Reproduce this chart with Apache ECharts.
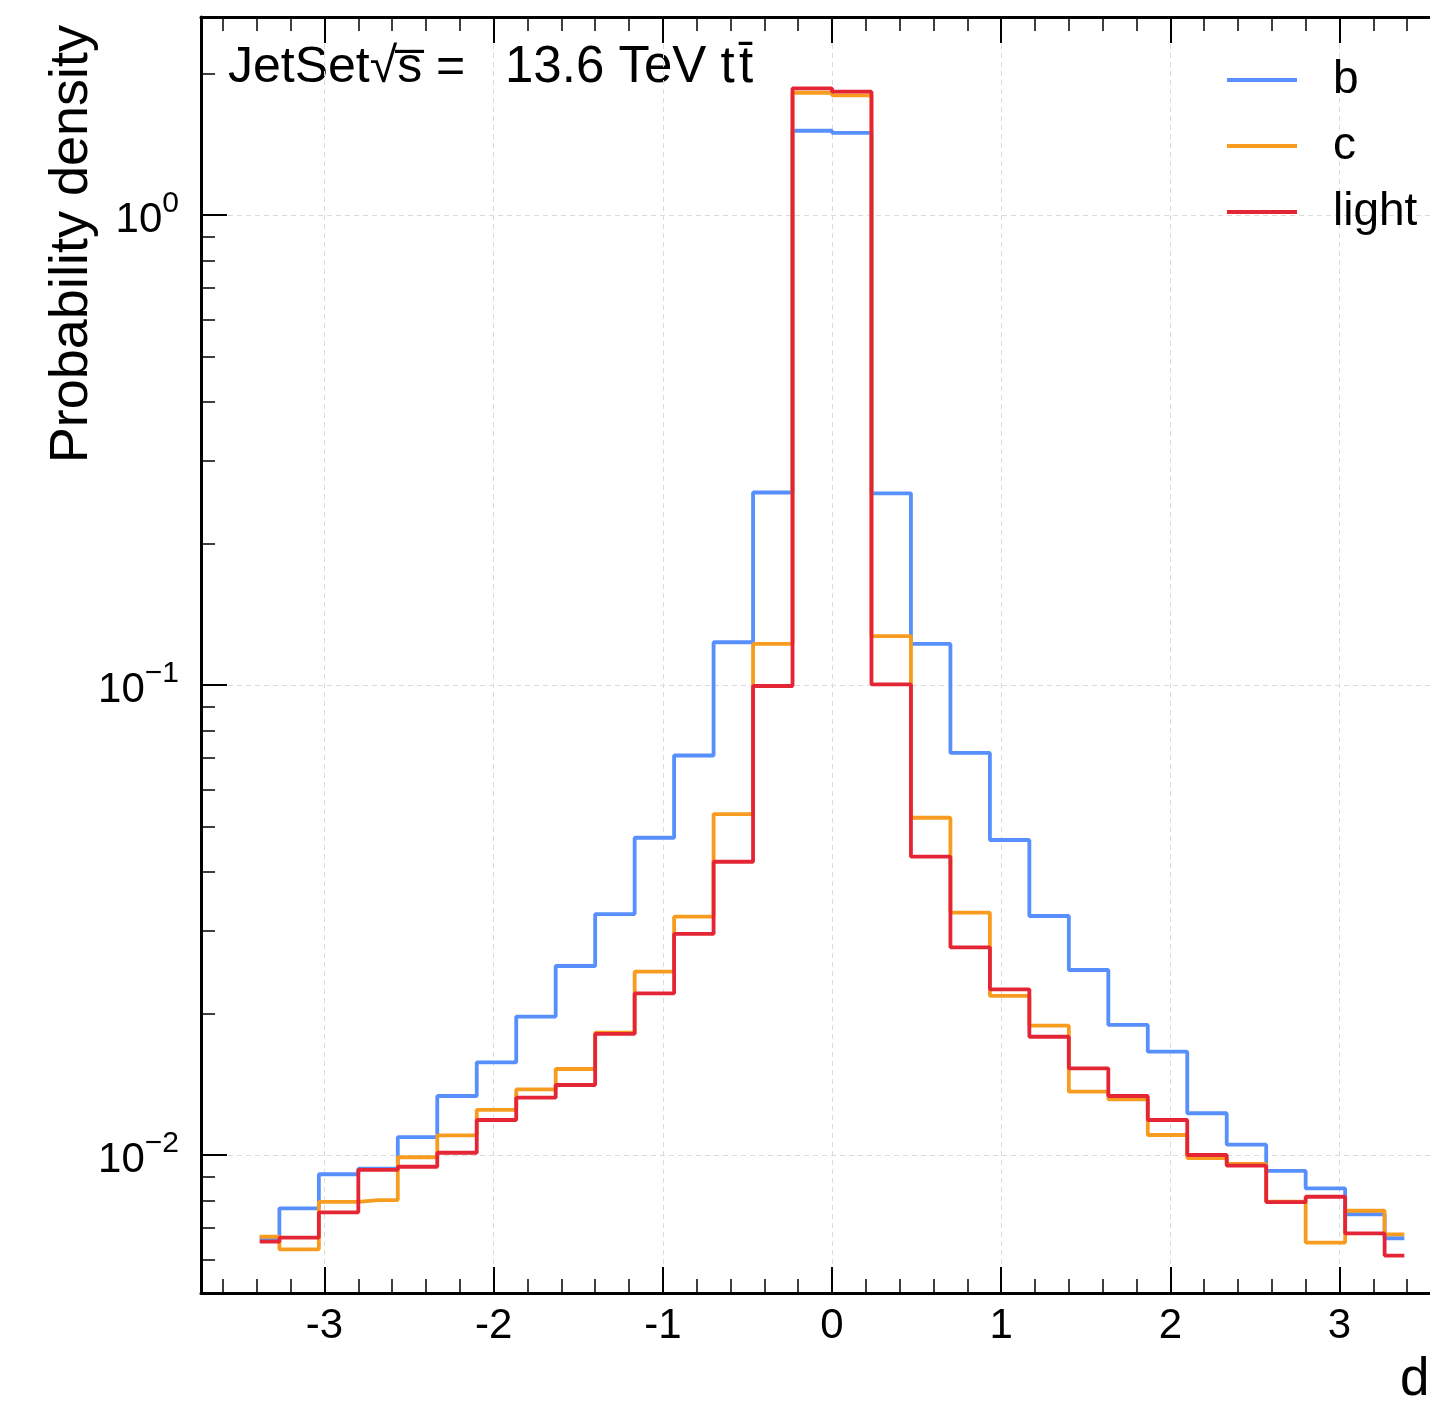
<!DOCTYPE html>
<html><head><meta charset="utf-8">
<script src="https://cdn.jsdelivr.net/npm/echarts@6/dist/echarts.min.js"></script>
<style>html,body{margin:0;padding:0;background:#fff}#c{width:1430px;height:1401px}</style>
</head><body><div id="c"></div>
<script>
// bin centres (30 bins of width 7/30 from -3.5 to 3.5)
const binCenters = [-3.3833,-3.15,-2.9167,-2.6833,-2.45,-2.2167,-1.9833,-1.75,-1.5167,-1.2833,-1.05,-0.8167,-0.5833,-0.35,-0.1167,0.1167,0.35,0.5833,0.8167,1.05,1.2833,1.5167,1.75,1.9833,2.2167,2.45,2.6833,2.9167,3.15,3.3833];
const bValues = [0.00665,0.00770,0.00910,0.00935,0.01092,0.01335,0.01575,0.01970,0.02524,0.03256,0.04732,0.0708,0.1233,0.2568,1.511,1.496,0.2558,0.1223,0.0717,0.0468,0.03225,0.02475,0.01891,0.01659,0.01227,0.01052,0.00925,0.00849,0.00748,0.00665];
const cValues = [0.00670,0.00630,0.00795,0.00802,0.00989,0.01101,0.01247,0.01379,0.01524,0.01820,0.02455,0.03214,0.05314,0.1223,1.820,1.797,0.1271,0.05219,0.03277,0.02180,0.01884,0.01364,0.01314,0.01103,0.00985,0.00957,0.00796,0.00651,0.00761,0.00678];
const lightValues = [0.00654,0.00667,0.00755,0.00930,0.00944,0.01011,0.01187,0.01324,0.01409,0.01810,0.02208,0.02953,0.04207,0.0995,1.860,1.830,0.1003,0.04312,0.02766,0.02252,0.01785,0.01529,0.01335,0.01187,0.01000,0.00949,0.00794,0.00815,0.00681,0.00611];
const seriesNames = ['b','c','light'];
const seriesColors = ['#5790fc','#f89c20','#e42536'];
const xMajorTicks = [-3,-2,-1,0,1,2,3];
const xMinorTicks = [-3.6,-3.4,-3.2,-2.8,-2.6,-2.4,-2.2,-1.8,-1.6,-1.4,-1.2,-0.8,-0.6,-0.4,-0.2,0.2,0.4,0.6,0.8,1.2,1.4,1.6,1.8,2.2,2.4,2.6,2.8,3.2,3.4,3.6];
const yMajorTicks = [0.01,0.1,1];
const yMinorTicks = [0.006,0.007,0.008,0.009,0.02,0.03,0.04,0.05,0.06,0.07,0.08,0.09,0.2,0.3,0.4,0.5,0.6,0.7,0.8,0.9,2];
const xRange = [-3.73, 3.73];
const yRange = [0.005086, 2.638];
const FONT = 'Liberation Sans';

const chart = echarts.init(document.getElementById('c'), null, {renderer:'canvas'});
const allValues = [bValues, cValues, lightValues];
const sup = {'-':'\u2212'};
function logLabel(v){
  const e = Math.round(Math.log10(v));
  const es = String(e).split('').map(ch => sup[ch] || ch).join('');
  return '{b|10}{s|' + es + '}';
}
const axisBlack = {color:'#000', width:3};
function xAx(pos, major){
  return {
    type:'value', min:xRange[0], max:xRange[1], position:pos, gridIndex:0,
    axisLine:{show: major, onZero:false, lineStyle:axisBlack},
    axisTick:{show:true, inside:true, length: major?26:14, customValues: major?xMajorTicks:xMinorTicks, lineStyle:{color:'#000', width: major?2:1.5}},
    axisLabel:{show: major && pos==='bottom', customValues:xMajorTicks, fontSize:42, fontFamily:FONT, color:'#000', margin:12, formatter: v => String(v)},
    splitLine:{show: major && pos==='bottom', lineStyle:{type:[5,4], color:'#dadada', width:1}}
  };
}
function yAx(major){
  return {
    type:'log', logBase:10, min:yRange[0], max:yRange[1], position:'left',
    axisLine:{show: major, onZero:false, lineStyle:axisBlack},
    axisTick:{show:true, inside:true, length: major?26:14, customValues: major?yMajorTicks:yMinorTicks, lineStyle:{color:'#000', width: major?2:1.5}},
    axisLabel:{show: major, customValues:yMajorTicks, margin:22, formatter: logLabel,
      rich:{ b:{fontSize:42, fontFamily:FONT, color:'#000', lineHeight:52, verticalAlign:'bottom'},
             s:{fontSize:30, fontFamily:FONT, color:'#000', lineHeight:18, verticalAlign:'top'} }},
    splitLine:{show: major, lineStyle:{type:[5,4], color:'#dadada', width:1}}
  };
}
const option = {
  backgroundColor:'#fff',
  animation:false,
  grid:{left:201, right:-33, top:17, bottom:108, containLabel:false, outerBoundsMode:'none'},
  xAxis:[xAx('bottom',true), xAx('bottom',false), xAx('top',true), xAx('top',false)],
  yAxis:[yAx(true), yAx(false)],
  legend:{
    data:seriesNames, orient:'vertical', left:1227, top:57, padding:0,
    itemWidth:70, itemHeight:4, itemGap:20, icon:'rect',
    textStyle:{fontSize:46, fontFamily:FONT, color:'#000', lineHeight:46, padding:[0,0,0,31]}
  },
  series: seriesNames.map((n,i) => ({
    name:n, type:'line', step:'middle', showSymbol:false, symbol:'none',
    xAxisIndex:0, yAxisIndex:0, z: 2+i,
    lineStyle:{color:seriesColors[i], width:3.8},
    itemStyle:{color:seriesColors[i]},
    data: binCenters.map((x,k) => [x, allValues[i][k]])
  })),
  graphic:[
    {type:'text', x:228, y:68, style:{text:'JetSet\u221As\u0305 =', font:'50px "Liberation Sans"', fill:'#000', align:'left', verticalAlign:'middle'}},
    {type:'text', x:505, y:68, style:{text:'13.6 TeV t\u200At\u0304', font:'51px "Liberation Sans"', fill:'#000', align:'left', verticalAlign:'middle'}},
    {type:'text', x:72, y:25, rotation:Math.PI/2, style:{text:'Probability density', font:'54px "Liberation Sans"', fill:'#000', align:'right', verticalAlign:'middle'}},
    {type:'text', x:1400, y:1380, style:{text:'d', font:'53px "Liberation Sans"', fill:'#000', align:'left', verticalAlign:'middle'}}
  ]
};
chart.setOption(option);
</script></body></html>
